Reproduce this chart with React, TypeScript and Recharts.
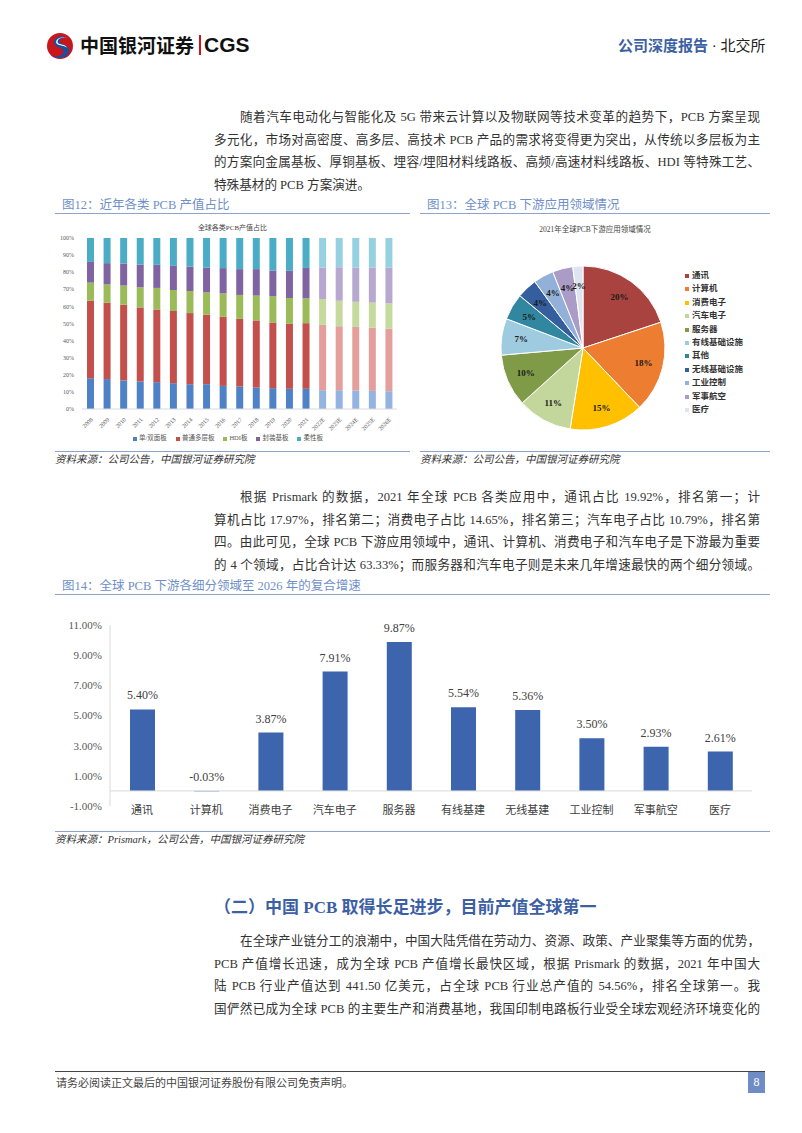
import React from "react"
import {
  BarChart,
  Bar,
  XAxis,
  YAxis,
  Cell,
  PieChart,
  Pie,
  LabelList,
  ReferenceLine,
} from "recharts"

// 图12 全球各类PCB产值占比 (%)
const years = [
  "2008", "2009", "2010", "2011", "2012", "2013", "2014", "2015", "2016", "2017",
  "2018", "2019", "2020", "2021", "2022E", "2023E", "2024E", "2025E", "2026E",
]
const singleDouble = [18, 17.5, 16.7, 16.1, 15.7, 15.1, 14.5, 14.5, 13.5, 13.1, 12.5, 12.2, 11.8, 11.8, 11, 11, 10.8, 10.6, 10.4]
const multilayer = [45.3, 44.7, 44.3, 43.3, 42.5, 42.2, 41.6, 40.6, 40.4, 39.6, 39.3, 38.4, 38, 38.4, 38.2, 37.4, 37.2, 37, 36.6]
const hdi = [10.6, 10.7, 11.2, 11.8, 12.6, 12.3, 12.9, 13.1, 13.7, 14, 14.5, 15.3, 15.1, 14.5, 15.1, 14.9, 14.7, 14.6, 14.8]
const substrate = [12.1, 12.4, 12.9, 13.3, 13.5, 14.1, 14.3, 14.5, 14.8, 15.1, 15.5, 15.1, 15.9, 17.8, 18.4, 19.6, 20, 20.5, 20.9]
const flex = [14, 14.7, 14.9, 15.5, 15.7, 16.3, 16.7, 17.3, 17.6, 18.2, 18.2, 19, 19.2, 17.5, 17.3, 17.1, 17.3, 17.3, 17.3]
const typeNames = ["单/双面板", "普通多层板", "HDI板", "封装基板", "柔性板"]
const pctTicks = [0, 10, 20, 30, 40, 50, 60, 70, 80, 90, 100]

// 图13 2021年全球PCB下游应用领域 (%)
const appNames = ["通讯", "计算机", "消费电子", "汽车电子", "服务器", "有线基础设施", "其他", "无线基础设施", "工业控制", "军事航空", "医疗"]
const appShares = [19.92, 17.97, 14.65, 10.79, 10.3, 7.2, 5.2, 4.0, 4.0, 4.0, 2.0]

// 图14 各细分领域至2026年复合增速 (%)
const segNames = ["通讯", "计算机", "消费电子", "汽车电子", "服务器", "有线基建", "无线基建", "工业控制", "军事航空", "医疗"]
const cagr = [5.4, -0.03, 3.87, 7.91, 9.87, 5.54, 5.36, 3.5, 2.93, 2.61]
const cagrTicks = [-1, 1, 3, 5, 7, 9, 11]

const typeColors = ["#4f81c7", "#c4504d", "#9bbb59", "#8064a2", "#4bacc6"]
const typeColorsLight = ["#93b3e0", "#e49e9c", "#c6da9e", "#b8a7cf", "#95d1e1"]
const appColors = ["#a9433f", "#ed7d31", "#ffc000", "#c3d69b", "#7f9b48", "#9fcbe0", "#31879f", "#345e9e", "#93b0d8", "#ab9cc7", "#dde6f0"]

const SERIF = '"Liberation Serif", "Noto Sans CJK SC", serif'

const para1 = [
  "随着汽车电动化与智能化及 5G 带来云计算以及物联网等技术变革的趋势下，PCB 方案呈现",
  "多元化，市场对高密度、高多层、高技术 PCB 产品的需求将变得更为突出，从传统以多层板为主",
  "的方案向金属基板、厚铜基板、埋容/埋阻材料线路板、高频/高速材料线路板、HDI 等特殊工艺、",
  "特殊基材的 PCB 方案演进。",
]
const para2 = [
  "根据 Prismark 的数据，2021 年全球 PCB 各类应用中，通讯占比 19.92%，排名第一；计",
  "算机占比 17.97%，排名第二；消费电子占比 14.65%，排名第三；汽车电子占比 10.79%，排名第",
  "四。由此可见，全球 PCB 下游应用领域中，通讯、计算机、消费电子和汽车电子是下游最为重要",
  "的 4 个领域，占比合计达 63.33%；而服务器和汽车电子则是未来几年增速最快的两个细分领域。",
]
const para3 = [
  "在全球产业链分工的浪潮中，中国大陆凭借在劳动力、资源、政策、产业聚集等方面的优势，",
  "PCB 产值增长迅速，成为全球 PCB 产值增长最快区域，根据 Prismark 的数据，2021 年中国大",
  "陆 PCB 行业产值达到 441.50 亿美元，占全球 PCB 行业总产值的 54.56%，排名全球第一。我",
  "国俨然已成为全球 PCB 的主要生产和消费基地，我国印制电路板行业受全球宏观经济环境变化的",
]

const typeData = years.map((y, i) => ({
  year: y,
  a: singleDouble[i],
  b: multilayer[i],
  c: hdi[i],
  d: substrate[i],
  e: flex[i],
}))
const appData = appNames.map((n, i) => ({ name: n, value: appShares[i] }))
const cagrData = segNames.map((n, i) => ({ name: n, value: cagr[i] }))

function Paragraph({ lines, top }: { lines: string[]; top: number }) {
  return (
    <>
      {lines.map((t, i) => (
        <div
          key={i}
          style={{
            position: "absolute",
            left: i === 0 ? 240 : 214,
            width: i === 0 ? 520 : 546,
            top: top + i * 22.7 - 10,
            height: 20,
            lineHeight: "20px",
            fontSize: 12.6,
            color: "#333",
            whiteSpace: "nowrap",
            textAlign: "justify",
            textAlignLast: i === lines.length - 1 && t.length < 30 ? "left" : "justify",
          }}
        >
          {t}
        </div>
      ))}
    </>
  )
}

function FigTitle({ x, y, w, text }: { x: number; y: number; w: number; text: string }) {
  return (
    <>
      <div style={{ position: "absolute", left: x + 7, top: y - 9, fontSize: 12.5, lineHeight: "18px", color: "#6f8fc8" }}>
        {text}
      </div>
      <div style={{ position: "absolute", left: x, top: y + 8, width: w, height: 1, background: "#8da3cb" }} />
    </>
  )
}

function Source({ x, y, w, text }: { x: number; y: number; w: number; text: string }) {
  return (
    <>
      <div style={{ position: "absolute", left: x, top: y - 9, width: w, height: 1, background: "#8da3cb" }} />
      <div style={{ position: "absolute", left: x, top: y - 8, fontSize: 10.5, lineHeight: "16px", fontStyle: "italic", color: "#333" }}>
        {text}
      </div>
    </>
  )
}

const RADIAN = Math.PI / 180
function pieLabel(props: any) {
  const { cx, cy, midAngle, outerRadius, value } = props
  const r = outerRadius * 0.76
  const x = cx + r * Math.cos(-midAngle * RADIAN)
  const y = cy + r * Math.sin(-midAngle * RADIAN)
  return (
    <text x={x} y={y} textAnchor="middle" dominantBaseline="central" fontSize={9} fontWeight="bold" fill="#1a1a1a" fontFamily={SERIF}>
      {Math.round(value)}%
    </text>
  )
}

function CatTick(props: any) {
  const { x, y, payload } = props
  return (
    <text x={x} y={y} dy={0} textAnchor="middle" fontSize={11} fill="#404040" fontFamily={SERIF}>
      {payload.value}
    </text>
  )
}

function ValueLabel(props: any) {
  const { x, y, width, height, value } = props
  const top = Math.min(Number(y), Number(y) + Number(height))
  return (
    <text x={Number(x) + Number(width) / 2} y={top - 10} textAnchor="middle" fontSize={12} fill="#404040" fontFamily={SERIF}>
      {`${Number(value).toFixed(2)}%`}
    </text>
  )
}

export default function App() {
  return (
    <div style={{ position: "absolute", left: 0, top: 0, width: 802, height: 1133, background: "#fff", fontFamily: SERIF, overflow: "hidden" }}>
      {/* header */}
      <svg style={{ position: "absolute", left: 46, top: 32 }} width={28} height={28} viewBox="0 0 28 28">
        <circle cx={14} cy={14} r={13} fill="#c8161d" />
        <path d="M21 5 C12 2 5 8 9 13 C12 17 19 15 17 21 C15 25 9 25 6 23 C9 27 20 28 23 20 C25 13 15 13 14 10 C13 7 17 5 21 5 Z" fill="#1d4f9c" />
        <path d="M22 6 C15 4 10 8 12 11 C14 13 20 12 21 16 C19 13 13 14 11 12 C8 9 13 3 22 6 Z" fill="#fff" />
      </svg>
      <div style={{ position: "absolute", left: 80, top: 33, fontSize: 19, fontWeight: "bold", lineHeight: "24px", color: "#111", fontFamily: '"Noto Sans CJK SC", sans-serif' }}>
        中国银河证券
      </div>
      <div style={{ position: "absolute", left: 199, top: 35, width: 1.5, height: 20, background: "#c8161d" }} />
      <div style={{ position: "absolute", left: 204, top: 32, fontSize: 21, fontWeight: "bold", lineHeight: "26px", color: "#111", fontFamily: '"Liberation Sans", Arial, sans-serif' }}>
        CGS
      </div>
      <div style={{ position: "absolute", left: 618, top: 36, fontSize: 15, lineHeight: "20px", color: "#222", whiteSpace: "nowrap" }}>
        <span style={{ color: "#3d5fa3", fontWeight: "bold" }}>公司深度报告</span> · 北交所
      </div>

      <Paragraph lines={para1} top={117} />

      {/* 图12 */}
      <FigTitle x={55} y={205} w={355} text="图12：近年各类 PCB 产值占比" />
      <div style={{ position: "absolute", left: 55, width: 355, top: 223, textAlign: "center", fontSize: 7, lineHeight: "10px", color: "#444" }}>
        全球各类PCB产值占比
      </div>
      <div style={{ position: "absolute", left: 55, top: 232 }}>
        <BarChart width={350} height={201} data={typeData} margin={{ top: 6, right: 8, left: 0, bottom: 0 }} barSize={7}>
          <XAxis
            dataKey="year"
            interval={0}
            angle={-45}
            textAnchor="end"
            height={24}
            tick={{ fontSize: 6, fill: "#595959" }}
            tickLine={false}
            axisLine={{ stroke: "#d9d9d9" }}
          />
          <YAxis
            domain={[0, 100]}
            ticks={pctTicks}
            tickFormatter={(v: number) => `${v}%`}
            width={27}
            tick={{ fontSize: 6, fill: "#595959" }}
            tickLine={false}
            axisLine={false}
          />
          {(["a", "b", "c", "d", "e"] as const).map((k, si) => (
            <Bar key={k} dataKey={k} stackId="s" fill={typeColors[si]} isAnimationActive={false}>
              {typeData.map((d, i) => (
                <Cell key={i} fill={d.year.endsWith("E") ? typeColorsLight[si] : typeColors[si]} />
              ))}
            </Bar>
          ))}
        </BarChart>
      </div>
      <div style={{ position: "absolute", left: 55, width: 355, top: 433, textAlign: "center", fontSize: 6.5, lineHeight: "10px", color: "#555", whiteSpace: "nowrap" }}>
        {typeNames.map((n, i) => (
          <span key={n} style={{ marginRight: 9 }}>
            <span style={{ display: "inline-block", width: 4, height: 4, background: typeColors[i], marginRight: 2, verticalAlign: "middle" }} />
            {n}
          </span>
        ))}
      </div>
      <Source x={55} y={460} w={355} text="资料来源：公司公告，中国银河证券研究院" />

      {/* 图13 */}
      <FigTitle x={420} y={205} w={350} text="图13：全球 PCB 下游应用领域情况" />
      <div style={{ position: "absolute", left: 420, width: 350, top: 225, textAlign: "center", fontSize: 7.5, lineHeight: "10px", color: "#444" }}>
        2021年全球PCB下游应用领域情况
      </div>
      <div style={{ position: "absolute", left: 420, top: 235 }}>
        <PieChart width={260} height={215}>
          <Pie
            data={appData}
            dataKey="value"
            nameKey="name"
            cx={158}
            cy={108}
            outerRadius={82}
            startAngle={90}
            endAngle={-270}
            stroke="#fff"
            strokeWidth={1}
            label={pieLabel}
            labelLine={false}
            isAnimationActive={false}
          >
            {appData.map((d, i) => (
              <Cell key={d.name} fill={appColors[i]} />
            ))}
          </Pie>
        </PieChart>
      </div>
      {appNames.map((n, i) => (
        <div key={n} style={{ position: "absolute", left: 685, top: 269 + i * 13.4, fontSize: 8.5, lineHeight: "13px", fontWeight: "bold", color: "#333", whiteSpace: "nowrap" }}>
          <span style={{ display: "inline-block", width: 4, height: 4, background: appColors[i], marginRight: 3, verticalAlign: "middle" }} />
          {n}
        </div>
      ))}
      <Source x={420} y={460} w={350} text="资料来源：公司公告，中国银河证券研究院" />

      <Paragraph lines={para2} top={497} />

      {/* 图14 */}
      <FigTitle x={55} y={586} w={715} text="图14：全球 PCB 下游各细分领域至 2026 年的复合增速" />
      <div style={{ position: "absolute", left: 55, top: 605 }}>
        <BarChart width={715} height={220} data={cagrData} margin={{ top: 20, right: 18, left: 0, bottom: 1 }} barSize={25}>
          <XAxis dataKey="name" interval={0} height={18} tick={<CatTick />} tickLine={false} axisLine={false} />
          <YAxis
            domain={[-1, 11]}
            ticks={cagrTicks}
            tickFormatter={(v: number) => `${v.toFixed(2)}%`}
            width={55}
            tick={{ fontSize: 11, fill: "#595959", fontFamily: SERIF }}
            tickLine={false}
            axisLine={{ stroke: "#d9d9d9" }}
          />
          <ReferenceLine y={0} stroke="#d9d9d9" />
          <Bar dataKey="value" fill="#3c65ae" isAnimationActive={false}>
            <LabelList dataKey="value" content={<ValueLabel />} />
          </Bar>
        </BarChart>
      </div>
      <Source x={55} y={840} w={715} text="资料来源：Prismark，公司公告，中国银河证券研究院" />

      {/* 二 */}
      <div style={{ position: "absolute", left: 214, top: 897, fontSize: 17, fontWeight: "bold", lineHeight: "22px", color: "#3d5fa3", whiteSpace: "nowrap" }}>
        （二）中国 PCB 取得长足进步，目前产值全球第一
      </div>
      <Paragraph lines={para3} top={941} />

      {/* footer */}
      <div style={{ position: "absolute", left: 55, top: 1071, width: 710, height: 1, background: "#444" }} />
      <div style={{ position: "absolute", left: 56, top: 1076, fontSize: 11, lineHeight: "15px", color: "#444" }}>
        请务必阅读正文最后的中国银河证券股份有限公司免责声明。
      </div>
      <div style={{ position: "absolute", left: 748, top: 1072, width: 17, height: 21, background: "#6f8dc4", color: "#fff", fontSize: 12, lineHeight: "21px", textAlign: "center" }}>
        8
      </div>
    </div>
  )
}
